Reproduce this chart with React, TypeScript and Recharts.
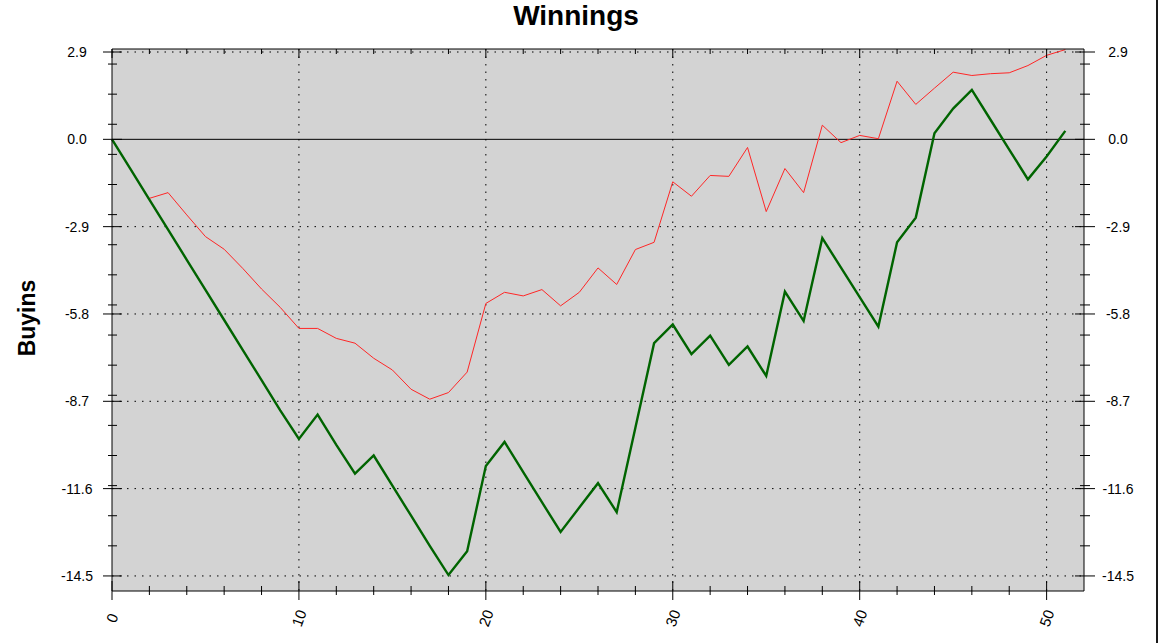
import React from 'react';
import { LineChart, Line, XAxis, YAxis, CartesianGrid, ReferenceLine } from 'recharts';

const rounds = [
  0, 1, 2, 3, 4, 5, 6, 7, 8, 9, 10, 11, 12, 13, 14, 15, 16, 17, 18, 19, 20, 21, 22, 23, 24, 25,
  26, 27, 28, 29, 30, 31, 32, 33, 34, 35, 36, 37, 38, 39, 40, 41, 42, 43, 44, 45, 46, 47, 48, 49, 50, 51,
];

// green: real winnings
const winnings = [
  0, -1, -2, -3, -4, -5, -6, -7, -8, -9, -9.95, -9.14, -10.15, -11.1, -10.5, -11.5, -12.5, -13.5, -14.47, -13.68,
  -10.85, -10.05, -11.05, -12.05, -13.04, -12.23, -11.42, -12.38, -9.58, -6.77, -6.15, -7.13, -6.52, -7.49, -6.88,
  -7.86, -5.06, -6.03, -3.28, -4.26, -5.24, -6.22, -3.42, -2.6, 0.2, 1.02, 1.64, 0.65, -0.34, -1.33, -0.57, 0.28,
];

// red: second series, starts at round 2
const expected = [
  null, null, -1.96, -1.77, -2.51, -3.23, -3.65, -4.29, -4.97, -5.58, -6.28, -6.28, -6.61, -6.77, -7.27, -7.66,
  -8.3, -8.63, -8.41, -7.73, -5.45, -5.08, -5.2, -4.99, -5.53, -5.08, -4.27, -4.82, -3.66, -3.42, -1.41, -1.89,
  -1.2, -1.23, -0.27, -2.4, -0.97, -1.77, 0.47, -0.11, 0.13, 0.02, 1.93, 1.16, 1.7, 2.23, 2.12, 2.18, 2.21, 2.45,
  2.79, 2.98,
];

const yMajor = [-14.5, -11.6, -8.7, -5.8, -2.9, 0, 2.9];
const yMinor = [
  -13.5, -12.5, -11.5, -10.5, -9.5, -8.5, -7.5, -6.5, -5.5, -4.5, -3.5, -2.5, -1.5, -0.5, 0.5, 1.5, 2.5,
];
const xMajor = [0, 10, 20, 30, 40, 50];
const xMinor = [2, 4, 6, 8, 12, 14, 16, 18, 22, 24, 26, 28, 32, 34, 36, 38, 42, 44, 46, 48];

const data = rounds.map((r, i) => ({ round: r, won: winnings[i], ev: expected[i] }));
const yTicks = [...yMajor, ...yMinor].sort((a, b) => a - b);
const xTicks = [...xMajor, ...xMinor].sort((a, b) => a - b);

const FONT = '"Liberation Sans", Arial, sans-serif';

const LeftTick = (props: any) => {
  const { x, y, payload } = props;
  const major = yMajor.includes(payload.value);
  return (
    <g>
      <line x1={x - (major ? 9 : 4)} x2={x + (major ? 10 : 5)} y1={y} y2={y} stroke='#000' />
      {major && (
        <text x={x - 35} y={y} textAnchor='middle' dominantBaseline='central' fontSize={14} fontFamily={FONT} fill='#000'>
          {payload.value.toFixed(1)}
        </text>
      )}
    </g>
  );
};

const RightTick = (props: any) => {
  const { x, y, payload } = props;
  const major = yMajor.includes(payload.value);
  return (
    <g>
      <line x1={x - (major ? 9 : 4)} x2={x + (major ? 11 : 6)} y1={y} y2={y} stroke='#000' />
      {major && (
        <text x={x + 34} y={y} textAnchor='middle' dominantBaseline='central' fontSize={14} fontFamily={FONT} fill='#000'>
          {payload.value.toFixed(1)}
        </text>
      )}
    </g>
  );
};

const BottomTick = (props: any) => {
  const { x, y, payload } = props;
  const major = xMajor.includes(payload.value);
  return (
    <g>
      <line x1={x} x2={x} y1={y - (major ? 10 : 5)} y2={y + (major ? 9 : 4)} stroke='#000' />
      {major && (
        <text
          x={x}
          y={y + 27}
          transform={`rotate(-70, ${x}, ${y + 27})`}
          textAnchor='middle'
          dominantBaseline='central'
          fontSize={15}
          fontFamily={FONT}
          fill='#000'
        >
          {payload.value}
        </text>
      )}
    </g>
  );
};

const TopTick = (props: any) => {
  const { x, y, payload } = props;
  const major = xMajor.includes(payload.value);
  return <line x1={x} x2={x} y1={y} y2={y + (major ? 9 : 5)} stroke='#000' />;
};

const App = () => {
  return (
    <div style={{ position: 'absolute', left: 0, top: 0, width: 1159, height: 643, background: '#fff' }}>
      <LineChart width={1159} height={643} data={data} margin={{ top: 19, right: 0, bottom: 0, left: 0 }}>
        <CartesianGrid
          fill='#d3d3d3'
          fillOpacity={1}
          stroke='#000'
          strokeDasharray='1.5 6'
          horizontalValues={yMajor.filter(v => v !== 0)}
          verticalValues={xMajor.filter(v => v !== 0)}
        />
        <XAxis
          dataKey='round'
          type='number'
          domain={[0, 52]}
          ticks={xTicks}
          interval={0}
          tickSize={0}
          tickMargin={0}
          tickLine={false}
          tick={BottomTick}
          axisLine={{ stroke: '#000' }}
          height={52}
        />
        <XAxis
          xAxisId='top'
          orientation='top'
          dataKey='round'
          type='number'
          domain={[0, 52]}
          ticks={xTicks}
          interval={0}
          tickSize={0}
          tickMargin={0}
          tickLine={false}
          tick={TopTick}
          axisLine={{ stroke: '#000' }}
          height={30}
        />
        <YAxis
          type='number'
          domain={[-15, 3]}
          ticks={yTicks}
          interval={0}
          tickSize={0}
          tickMargin={0}
          tickLine={false}
          tick={LeftTick}
          axisLine={{ stroke: '#000' }}
          width={112}
          allowDataOverflow
        />
        <YAxis
          yAxisId='right'
          orientation='right'
          type='number'
          domain={[-15, 3]}
          ticks={yTicks}
          interval={0}
          tickSize={0}
          tickMargin={0}
          tickLine={false}
          tick={RightTick}
          axisLine={{ stroke: '#000' }}
          width={75}
          allowDataOverflow
        />
        <ReferenceLine y={0} stroke='#000' strokeWidth={1} />
        <Line
          dataKey='ev'
          type='linear'
          stroke='#ff2626'
          strokeWidth={1}
          dot={false}
          isAnimationActive={false}
        />
        <Line
          dataKey='won'
          type='linear'
          stroke='#006400'
          strokeWidth={2.4}
          dot={false}
          isAnimationActive={false}
        />
      </LineChart>
      <svg width={1159} height={643} style={{ position: 'absolute', left: 0, top: 0, pointerEvents: 'none' }}>
        <text x={576} y={25} textAnchor='middle' fontSize={28} fontWeight='bold' fontFamily={FONT} fill='#000'>
          Winnings
        </text>
        <text
          x={35}
          y={318}
          transform='rotate(-90, 35, 318)'
          textAnchor='middle'
          fontSize={23}
          fontWeight='bold'
          fontFamily={FONT}
          fill='#000'
        >
          Buyins
        </text>
      </svg>
      <div style={{ position: 'absolute', left: 1156, top: 0, width: 2, height: 643, background: '#1a1a1a' }} />
    </div>
  );
};

export default App;
